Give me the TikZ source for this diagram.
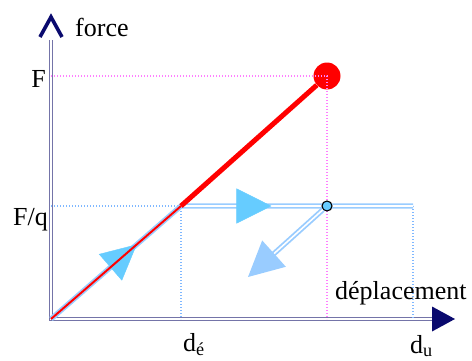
\documentclass[tikz,border=0pt]{standalone}
\usepackage{fontspec}
\setmainfont{Liberation Serif}
\usetikzlibrary{arrows.meta,positioning,decorations.markings}
\definecolor{axAxis}{HTML}{7474A8}
\definecolor{axTip}{HTML}{0A0A6E}
\definecolor{pathBlue}{HTML}{99CCFF}
\definecolor{arrBlue}{HTML}{66CCFF}
\definecolor{guidePink}{HTML}{FF80FF}
\definecolor{guideBlue}{HTML}{80B8FF}

\begin{document}
\begin{tikzpicture}[x=1pt,y=1pt,
    axe/.style={draw=axAxis,line width=1.4pt,double=white,double distance=1.2pt},
    chemin/.style={draw=pathBlue,line width=1.8pt,double=white,double distance=1.6pt},
    guide/.style={dash pattern=on 1.3pt off 1.7pt,line width=1.2pt},
    lbl/.style={inner sep=0pt,font=\fontsize{26}{30}\selectfont},
    pointe/.style={decoration={markings,mark=at position #1 with
      {\arrow{Triangle[length=35pt,width=35pt,color=arrBlue]}}},decorate}]
  \useasboundingbox (0,0) rectangle (472,360);
  % points of the curve
  \coordinate (O) at (51,41);
  \coordinate (E) at (181,154);   % yield
  \coordinate (U) at (413,154);
  \coordinate (D) at (248,83);
  \coordinate (Ybase) at (51,320);
  \coordinate (Ytop) at (51,343);
  \coordinate (Xbase) at (432,41);
  \coordinate (Xend) at (455,41);
  \coordinate (Fy) at (51,284);
  \coordinate (Fqy) at (51,154);
  \coordinate (Pd) at (327,41);
  \coordinate (Ed) at (181,41);
  \coordinate (Ud) at (413,41);
  \node[circle,fill=red,minimum size=27pt,inner sep=0pt] (P) at (327,284) {};
  % axes
  \draw[axe] (Ybase) -- (O) -- (Xbase);
  \draw[axTip,line width=3.6pt,miter limit=4] ([shift={(-11,-20)}]Ytop) -- (Ytop) -- ++(11,-20);
  \fill[axTip] (Xend) -- ++(-23,12.5) -- ++(0,-25) -- cycle;
  % guides
  \draw[guide,guideBlue] (Fqy) -- (E) -- (Ed);
  \draw[guide,guideBlue] (U) -- (Ud);
  \draw[guide,guidePink] (Fy) -- (P.center) -- (Pd);
  % loading path
  \draw[chemin] (O) -- (E) -- (U);
  \path[pointe=0.66] (O) -- (E);
  \path[pointe=0.39] (E) -- (U);
  \draw[red,line width=2pt] (O) -- (E);
  \draw[red,line width=5pt] (E) -- (P);
  \node[circle,draw=black,fill=arrBlue,line width=1.1pt,minimum size=10pt,inner sep=0pt] (C) at (327,154) {};
  \draw[chemin,-{Triangle[length=35pt,width=35pt,color=pathBlue]}] (C) -- (D);
  % labels
  \node[lbl,anchor=base east] (lF) at (46,273) {F};
  \node[lbl,anchor=base east] (lFq) at (48,135) {F/q};
  \node[lbl,anchor=base west] (lforce) at (75,324) {force};
  \node[lbl,anchor=base west] (ldep) at (335,61) {déplacement};
  \node[lbl,anchor=base west] (ldu) at (410,7) {d\textsubscript{u}};
  \node[lbl,anchor=base west] (lde) at (183,9) {d\textsubscript{é}};
\end{tikzpicture}
\end{document}
